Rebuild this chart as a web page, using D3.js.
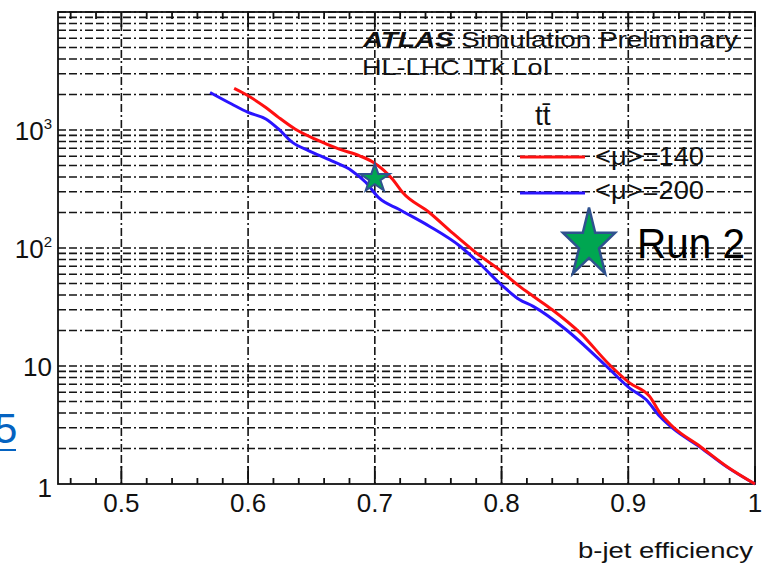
<!DOCTYPE html>
<html>
<head>
<meta charset="utf-8">
<title>b-jet efficiency</title>
<style>
  body { margin: 0; background: #fff; }
  svg text { font-family: "Liberation Sans", Arial, sans-serif; fill: #111; }
  .grid line { stroke: #151515; stroke-width: 1.6; stroke-dasharray: 8 3 8 3 2 3; }
  .frame { fill: none; stroke: #111; stroke-width: 1.8; }
  .tick { stroke: #111; stroke-width: 1.8; }
</style>
</head>
<body>
<svg class="chart"></svg>
<script src="https://cdn.jsdelivr.net/npm/d3@7"></script>
<script>
// curves: b-jet efficiency vs light-jet rejection
var effMu140 = [0.589, 0.600, 0.614, 0.624, 0.637, 0.653, 0.672, 0.688, 0.699, 0.714, 0.722, 0.743,
                0.761, 0.780, 0.801, 0.814, 0.825, 0.840, 0.862, 0.885, 0.901, 0.917, 0.925, 0.935,
                0.957, 0.978, 1.0];
var rejMu140 = [2250, 1950, 1550, 1280, 1020, 837, 688, 604, 531, 383, 295, 200,
                135, 91, 62, 47.5, 39, 30, 19.1, 10.3, 7.2, 5.5, 4.0, 3.07,
                2.07, 1.4, 1];
var effMu200 = [0.570, 0.587, 0.600, 0.614, 0.624, 0.635, 0.648, 0.666, 0.682, 0.693, 0.703, 0.719,
                0.743, 0.767, 0.782, 0.801, 0.814, 0.825, 0.851, 0.883, 0.901, 0.914, 0.925, 0.935,
                0.957, 0.978, 1.0];
var rejMu200 = [2080, 1660, 1410, 1240, 1020, 785, 666, 547, 450, 359, 267, 213,
                153, 104, 75, 47.5, 36.6, 32, 20.3, 9.9, 6.5, 5.2, 3.73, 2.97,
                2.04, 1.39, 1];
var run2Point = [0.70, 388];

var legendLabels = ["<\u03bc>=140", "<\u03bc>=200"];
var legendColors = ["#ff1010", "#2a14ff"];

var xTicks = [0.5, 0.6, 0.7, 0.8, 0.9, 1.0];
var xTickLabels = ["0.5", "0.6", "0.7", "0.8", "0.9", "1"];
var yTicks = [1, 10, 100, 1000];
var yTickBase = ["1", "10", "10", "10"];
var yTickExp = ["", "", "2", "3"];

var w = 768, h = 570;
var pLeft = 58, pRight = 755, pTop = 12, pBottom = 484;

var x = d3.scaleLinear().domain([0.45, 1.0]).range([pLeft, pRight]);
var y = d3.scaleLog().domain([1, 1e4]).range([pBottom, pTop]);

var svg = d3.select('.chart').attr('width', w).attr('height', h);
svg.append('rect').attr('width', w).attr('height', h).attr('fill', '#fff');

// labels sit under the grid like in the original
var t1 = svg.append('text').attr('x', 363).attr('y', 47).attr('font-size', 22)
    .attr('textLength', 375).attr('lengthAdjust', 'spacingAndGlyphs');
t1.append('tspan').attr('font-weight', 'bold').attr('font-style', 'italic').text('ATLAS');
t1.append('tspan').text(' Simulation Preliminary');
svg.append('text').attr('x', 362).attr('y', 75).attr('font-size', 22)
    .attr('textLength', 188).attr('lengthAdjust', 'spacingAndGlyphs')
    .text('HL-LHC ITk LoI');
svg.append('text').attr('x', 535).attr('y', 125).attr('font-size', 28).text('tt\u0304');

legendLabels.forEach(function(lab, i) {
    svg.append('text').attr('x', 595).attr('y', 165 + i * 34).attr('font-size', 25)
        .attr('textLength', 109).attr('lengthAdjust', 'spacingAndGlyphs').text(lab);
});

// grid
var gridY = [];
for (var k = 0; k < 4; k++)
    for (var m = 1; m < 10; m++)
        if (!(k == 0 && m == 1)) gridY.push(m * Math.pow(10, k));
gridY.push(1e4);

var grid = svg.append('g').attr('class', 'grid');
grid.selectAll('.gy').data(gridY).enter().append('line')
    .attr('x1', pLeft).attr('x2', pRight)
    .attr('y1', d => y(d)).attr('y2', d => y(d));
grid.selectAll('.gx').data(xTicks.slice(0, 5)).enter().append('line')
    .attr('x1', d => x(d)).attr('x2', d => x(d))
    .attr('y1', pTop).attr('y2', pBottom);

// ticks
var minor = d3.range(0.46, 0.999, 0.02).filter(v => Math.abs(v * 10 - Math.round(v * 10)) > 1e-6);
var ticks = svg.append('g');
ticks.selectAll('.mb').data(minor).enter().append('line').attr('class', 'tick')
    .attr('x1', d => x(d)).attr('x2', d => x(d)).attr('y1', pBottom).attr('y2', pBottom - 6);
ticks.selectAll('.mt').data(minor).enter().append('line').attr('class', 'tick')
    .attr('x1', d => x(d)).attr('x2', d => x(d)).attr('y1', pTop).attr('y2', pTop + 7);
ticks.selectAll('.Mb').data(xTicks).enter().append('line').attr('class', 'tick')
    .attr('x1', d => x(d)).attr('x2', d => x(d)).attr('y1', pBottom).attr('y2', pBottom - 18);
ticks.selectAll('.Mt').data(xTicks).enter().append('line').attr('class', 'tick')
    .attr('x1', d => x(d)).attr('x2', d => x(d)).attr('y1', pTop).attr('y2', pTop + 15);

svg.append('rect').attr('class', 'frame')
    .attr('x', pLeft).attr('y', pTop).attr('width', pRight - pLeft).attr('height', pBottom - pTop);

// tick labels
svg.selectAll('.xl').data(xTicks).enter().append('text')
    .attr('x', d => x(d)).attr('y', 512).attr('text-anchor', 'middle').attr('font-size', 26)
    .text((d, i) => xTickLabels[i]);
yTicks.forEach(function(v, i) {
    var t = svg.append('text').attr('x', 52).attr('y', y(v) + (i == 0 ? 13 : 10))
        .attr('text-anchor', 'end').attr('font-size', 26);
    t.append('tspan').text(yTickBase[i]);
    if (yTickExp[i]) t.append('tspan').attr('font-size', 15).attr('dy', -11).text(yTickExp[i]);
});

svg.append('text').attr('x', 753).attr('y', 558).attr('text-anchor', 'end').attr('font-size', 22)
    .attr('textLength', 175).attr('lengthAdjust', 'spacingAndGlyphs').text('b-jet efficiency');

// curves
var line = d3.line().x(d => x(d[0])).y(d => y(d[1])).curve(d3.curveMonotoneX);
var series = [d3.zip(effMu140, rejMu140), d3.zip(effMu200, rejMu200)];
svg.selectAll('.curve').data(series.slice().reverse()).enter().append('path')
    .attr('fill', 'none').attr('stroke-width', 3).attr('stroke-linejoin', 'round')
    .attr('stroke', (d, i) => legendColors[1 - i])
    .attr('d', line);

legendColors.forEach(function(c, i) {
    svg.append('line').attr('x1', 520).attr('x2', 585)
        .attr('y1', 157 + i * 36).attr('y2', 157 + i * 36)
        .attr('stroke', c).attr('stroke-width', 3);
});

// Run 2 marker and pasted legend
var star = d3.symbol(d3.symbolStar, 1 / 0.8908130915292852)();
svg.append('path').attr('d', star)
    .attr('transform', 'translate(' + x(run2Point[0]) + ',' + y(run2Point[1]) + ') scale(15.5,14.8)')
    .attr('fill', '#00a651').attr('stroke', '#2f528f').attr('stroke-width', 2)
    .attr('vector-effect', 'non-scaling-stroke');
svg.append('path').attr('d', star)
    .attr('transform', 'translate(589,244) scale(27.5,36.5)')
    .attr('fill', '#00a651').attr('stroke', '#2f528f').attr('stroke-width', 2.5)
    .attr('vector-effect', 'non-scaling-stroke');
svg.append('text').attr('x', 637).attr('y', 258).attr('font-size', 43)
    .attr('font-family', 'Lato, "Open Sans", sans-serif').style('fill', '#000')
    .attr('textLength', 108).attr('lengthAdjust', 'spacingAndGlyphs').text('Run 2');

// clipped hyperlink digit at the far left
svg.append('text').attr('x', -6).attr('y', 443).attr('font-size', 42)
    .attr('font-family', 'Lato, sans-serif').style('fill', '#0563c1').text('5');
svg.append('line').attr('x1', 0).attr('x2', 16).attr('y1', 450).attr('y2', 450)
    .attr('stroke', '#0563c1').attr('stroke-width', 2);
</script>
</body>
</html>
